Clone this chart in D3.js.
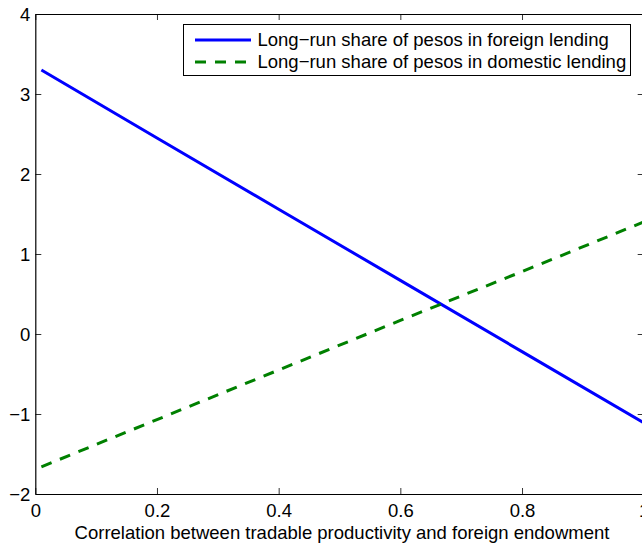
<!DOCTYPE html>
<html><head><meta charset="utf-8">
<script src="https://cdn.jsdelivr.net/npm/d3@7"></script>
<style>body{margin:0;background:#fff;} text{font-family:"Liberation Sans",Arial,sans-serif;}</style>
</head><body>
<svg id="c" width="642" height="543"></svg>
<script>
const xValues = [0.01, 0.2, 0.4, 0.6, 0.8, 1.0];
const foreignShare = [3.30, 2.45, 1.56, 0.67, -0.22, -1.11];
const domesticShare = [-1.66, -1.07, -0.45, 0.17, 0.78, 1.40];
const seriesNames = ["Long\u2212run share of pesos in foreign lending", "Long\u2212run share of pesos in domestic lending"];
const xTicks = [0, 0.2, 0.4, 0.6, 0.8, 1];
const yTicks = [-2, -1, 0, 1, 2, 3, 4];
const xLabel = "Correlation between tradable productivity and foreign endowment";

const FS = 18.5;
const svg = d3.select("#c");
const L = 35.3, R = 643.7, T = 14, B = 494;
const x = d3.scaleLinear().domain([0, 1]).range([L, R]);
const y = d3.scaleLinear().domain([-2, 4]).range([B, T]);
const fmt = d => (d < 0 ? "\u2212" + Math.abs(d) : String(d));

// axes (ticks inward)
const gx = svg.append("g").attr("transform", `translate(0,${B})`)
  .call(d3.axisBottom(x).tickValues(xTicks).tickSizeInner(-6).tickSizeOuter(0).tickPadding(10).tickFormat(fmt));
const gxt = svg.append("g").attr("transform", `translate(0,${T})`)
  .call(d3.axisTop(x).tickValues(xTicks).tickSizeInner(-6).tickSizeOuter(0).tickFormat(""));
const gy = svg.append("g").attr("transform", `translate(${L},0)`)
  .call(d3.axisLeft(y).tickValues(yTicks).tickSizeInner(-6).tickSizeOuter(0).tickPadding(5).tickFormat(fmt));
const gyr = svg.append("g").attr("transform", `translate(${R},0)`)
  .call(d3.axisRight(y).tickValues(yTicks).tickSizeInner(-6).tickSizeOuter(0).tickFormat(""));
[gx, gxt, gy, gyr].forEach(g => {
  g.select(".domain").attr("stroke", "#000").attr("stroke-width", 1.2);
  g.selectAll(".tick line").attr("stroke", "#000").attr("stroke-width", 0.8);
  g.selectAll("text").attr("font-size", FS).attr("fill", "#000").style("font-family", '"Liberation Sans",Arial,sans-serif');
});
gy.selectAll("text").attr("dy", "0.35em");

// lines
const line = d3.line().x((d, i) => x(xValues[i])).y(d => y(d));
svg.append("path").datum(foreignShare).attr("d", line)
  .attr("fill", "none").attr("stroke", "#0000ff").attr("stroke-width", 3);
svg.append("path").datum(domesticShare).attr("d", line)
  .attr("fill", "none").attr("stroke", "#008000").attr("stroke-width", 3).attr("stroke-dasharray", "11,9");

// x label
svg.append("text").attr("x", 342).attr("y", 539).attr("text-anchor", "middle")
  .attr("font-size", FS).attr("fill", "#000").text(xLabel);

// legend
const lg = svg.append("g");
lg.append("rect").attr("x", 183.5).attr("y", 24.5).attr("width", 447).attr("height", 51)
  .attr("fill", "#fff").attr("stroke", "#000").attr("stroke-width", 1);
const rowsY = [40, 62];
const colors = ["#0000ff", "#008000"];
const dashes = [null, "11,9"];
seriesNames.forEach((n, i) => {
  lg.append("line").attr("x1", 195).attr("x2", 251).attr("y1", rowsY[i]).attr("y2", rowsY[i])
    .attr("stroke", colors[i]).attr("stroke-width", 3).attr("stroke-dasharray", dashes[i]);
  lg.append("text").attr("x", 257.5).attr("y", rowsY[i]).attr("dy", "0.35em")
    .attr("font-size", FS).attr("fill", "#000").text(n);
});
</script>
</body></html>
